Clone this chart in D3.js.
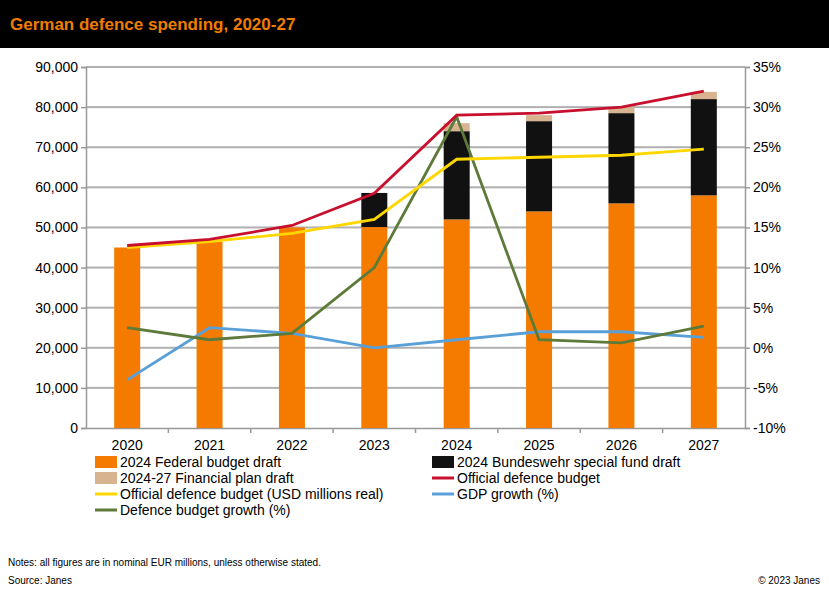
<!DOCTYPE html>
<html><head><meta charset="utf-8">
<script src="https://cdn.jsdelivr.net/npm/d3@7"></script>
<style>body{margin:0;background:#fff;font-family:Arial,"Liberation Sans",sans-serif}</style>
</head><body><svg id="c" width="829" height="600"></svg>
<script>
const years = ['2020','2021','2022','2023','2024','2025','2026','2027'];
const federal = [45000,46500,50000,50100,52000,54000,56000,58000];
const specialFund = [0,0,0,8500,22000,22500,22500,24000];
const financialPlan = [0,0,0,0,2000,1500,1500,1800];
const officialBudget = [45500,47000,50500,58500,78000,78500,80000,84000];
const usdReal = [45000,46500,48500,52000,67000,67500,68000,69500];
const gdpGrowth = [-4,2.5,1.8,0,1,2,2,1.3];
const defenceGrowth = [2.5,1,1.8,10,28.8,1,0.6,2.7];
const leftTicks = [10000,20000,30000,40000,50000,60000,70000,80000,90000];

const svg = d3.select('#c');
svg.append('rect').attr('width',829).attr('height',48).attr('fill','#000');
svg.append('text').attr('x',10).attr('y',30).attr('fill','#f07d00').attr('font-size',17).attr('font-weight','bold').text('German defence spending, 2020-27');

const L=86,R=745,T=67,B=428;
const x=d3.scaleBand().domain(years).range([L,R]);
const y=d3.scaleLinear().domain([0,90000]).range([B,T]);
const y2=d3.scaleLinear().domain([-10,35]).range([B,T]);

svg.append('g').attr('class','grid').selectAll('rect').data(leftTicks).join('rect')
  .attr('x',L).attr('width',R-L).attr('y',d=>y(d)-1).attr('height',2).attr('fill','#b0b0b0');

svg.append('g').attr('transform',`translate(${L},0)`).call(d3.axisLeft(y).ticks(9).tickFormat(d3.format(',')).tickSize(5))
  .call(g=>g.selectAll('text').attr('font-size',14).attr('fill','#000'))
  .call(g=>g.selectAll('.domain,.tick line').attr('stroke','#999').attr('stroke-width',1.5));
svg.append('g').attr('transform',`translate(${R},0)`).call(d3.axisRight(y2).ticks(9).tickFormat(d=>d+'%').tickSize(5))
  .call(g=>g.selectAll('text').attr('font-size',14).attr('fill','#000'))
  .call(g=>g.selectAll('.domain,.tick line').attr('stroke','#999').attr('stroke-width',1.5));
const xa=svg.append('g').attr('transform',`translate(0,${B})`).call(d3.axisBottom(x).tickSize(0).tickPadding(8))
  .call(g=>g.selectAll('text').attr('font-size',14).attr('fill','#000').attr('dy','1em'))
  .call(g=>g.select('.domain').attr('stroke','#999').attr('stroke-width',1.5));
xa.selectAll('.sep').data(years.slice(1)).join('line').attr('x1',d=>x(d)).attr('x2',d=>x(d)).attr('y1',0).attr('y2',5).attr('stroke','#999').attr('stroke-width',1.5);

const bw=26;
const cx=d=>x(d)+x.bandwidth()/2;
years.forEach((yr,i)=>{
  let base=0;
  [[federal[i],'#f47b00'],[specialFund[i],'#111'],[financialPlan[i],'#d7b48f']].forEach(([v,c])=>{
    if(v>0) svg.append('rect').attr('x',cx(yr)-bw/2).attr('width',bw).attr('y',y(base+v)).attr('height',y(base)-y(base+v)).attr('fill',c);
    base+=v;
  });
});
function line(vals,sc,color){
  svg.append('path').datum(vals).attr('fill','none').attr('stroke',color).attr('stroke-width',2.8)
    .attr('d',d3.line().x((d,i)=>cx(years[i])).y(d=>sc(d)));
}
line(gdpGrowth,y2,'#5aa0d8');
line(defenceGrowth,y2,'#5e7a3a');
line(usdReal,y,'#ffd700');
line(officialBudget,y,'#c8102e');

const leg=[
 ['2024 Federal budget draft','#f47b00','rect',95,462],
 ['2024 Bundeswehr special fund draft','#111','rect',432,462],
 ['2024-27 Financial plan draft','#d7b48f','rect',95,478],
 ['Official defence budget','#c8102e','line',432,478],
 ['Official defence budget (USD millions real)','#ffd700','line',95,494],
 ['GDP growth (%)','#5aa0d8','line',432,494],
 ['Defence budget growth (%)','#5e7a3a','line',95,510]];
leg.forEach(([t,c,k,lx,ly])=>{
  if(k==='rect') svg.append('rect').attr('x',lx).attr('y',ly-6).attr('width',22).attr('height',12).attr('fill',c);
  else svg.append('line').attr('x1',lx).attr('x2',lx+22).attr('y1',ly).attr('y2',ly).attr('stroke',c).attr('stroke-width',3);
  svg.append('text').attr('x',lx+25).attr('y',ly+5).attr('font-size',14).text(t);
});
svg.append('text').attr('x',8).attr('y',566).attr('font-size',10).text('Notes: all figures are in nominal EUR millions, unless otherwise stated.');
svg.append('text').attr('x',8).attr('y',584).attr('font-size',10).text('Source: Janes');
svg.append('text').attr('x',820).attr('y',584).attr('font-size',10).attr('text-anchor','end').text('© 2023 Janes');
</script></body></html>
